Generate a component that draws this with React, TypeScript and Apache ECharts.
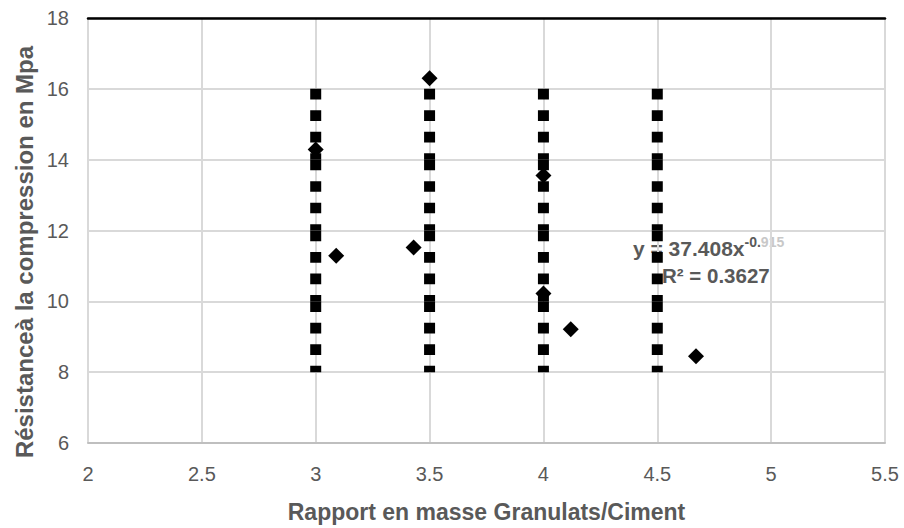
import React, { useEffect, useRef } from "react";
import * as echarts from "echarts";

// Axis ranges / ticks
const xMin = 2;
const xMax = 5.5;
const xStep = 0.5;
const yMin = 6;
const yMax = 18;
const yStep = 2;

// Measured points (diamonds)
const pointsX = [3.0, 3.09, 3.43, 3.5, 4.0, 4.0, 4.12, 4.67];
const pointsY = [14.29, 11.29, 11.52, 16.3, 13.55, 10.22, 9.21, 8.45];

// Vertical square-dot lines
const dottedColumnsX = [3, 3.5, 4, 4.5];
const dottedLevels = [16, 14, 12, 10, 8];

// Texts
const xTitle = "Rapport en masse Granulats/Ciment";
const yTitle = "Résistanceà la compression en Mpa";
const eqMain = "y = 37.408x";
const eqExpA = "-0.";
const eqExpB = "915";
const r2Text = "R² = 0.3627";

const GREY = "#595959";
const FONT = "'Liberation Sans', Arial, sans-serif";

export default function App() {
  const ref = useRef<HTMLDivElement>(null);

  useEffect(() => {
    if (!ref.current) return;
    const chart = echarts.init(ref.current, undefined, { renderer: "svg" });

    const dottedSeries: any[] = [];
    dottedColumnsX.forEach((cx) => {
      for (let i = 0; i < dottedLevels.length - 1; i++) {
        dottedSeries.push({
          type: "line",
          data: [
            [cx, dottedLevels[i]],
            [cx, dottedLevels[i + 1]],
          ],
          symbol: "none",
          silent: true,
          z: 3,
          lineStyle: {
            color: "#000000",
            width: 11,
            type: [10.7, 10.8],
            cap: "butt",
          },
        });
      }
    });

    chart.setOption({
      animation: false,
      backgroundColor: "#ffffff",
      textStyle: { fontFamily: FONT },
      grid: { left: 88, right: 19, top: 18, bottom: 80, containLabel: false },
      xAxis: [
        {
          type: "value",
          min: xMin,
          max: xMax,
          interval: xStep,
          position: "bottom",
          name: xTitle,
          nameLocation: "middle",
          nameGap: 57,
          nameTextStyle: {
            color: GREY,
            fontSize: 23,
            fontWeight: "bold",
            fontFamily: FONT,
          },
          axisLine: { show: true, lineStyle: { color: "#bfbfbf", width: 2 } },
          axisTick: { show: false },
          axisLabel: {
            color: GREY,
            fontSize: 20,
            margin: 21,
            fontFamily: FONT,
          },
          splitLine: { show: true, lineStyle: { color: "#d9d9d9", width: 2 } },
        },
        {
          type: "value",
          min: xMin,
          max: xMax,
          interval: xStep,
          position: "top",
          axisLine: { show: true, lineStyle: { color: "#000000", width: 2.5 } },
          axisTick: { show: false },
          axisLabel: { show: false },
          splitLine: { show: false },
        },
      ],
      yAxis: {
        type: "value",
        min: yMin,
        max: yMax,
        interval: yStep,
        axisLine: { show: false },
        axisTick: { show: false },
        axisLabel: {
          color: GREY,
          fontSize: 20,
          margin: 19,
          fontFamily: FONT,
        },
        splitLine: { show: true, lineStyle: { color: "#d9d9d9", width: 2 } },
      },
      graphic: [
        {
          type: "text",
          x: 24,
          y: 252,
          rotation: Math.PI / 2,
          z: 0,
          style: {
            text: yTitle,
            fill: GREY,
            fontSize: 24,
            fontWeight: "bold",
            fontFamily: FONT,
            textAlign: "center",
            textVerticalAlign: "middle",
          },
        },
        {
          type: "text",
          x: 633,
          y: 248,
          z: 0,
          style: {
            rich: {
              m: { fontSize: 21, fontWeight: "bold", fill: GREY, fontFamily: FONT },
              e: {
                fontSize: 14,
                fontWeight: "bold",
                fill: GREY,
                fontFamily: FONT,
                padding: [0, 0, 12, 0],
              },
              f: {
                fontSize: 14,
                fontWeight: "bold",
                fill: "#c8c8c8",
                fontFamily: FONT,
                padding: [0, 0, 12, 0],
              },
            },
            text: `{m|${eqMain}}{e|${eqExpA}}{f|${eqExpB}}`,
            textAlign: "left",
            textVerticalAlign: "middle",
          },
        },
        {
          type: "text",
          x: 662,
          y: 275,
          z: 0,
          style: {
            text: r2Text,
            fill: GREY,
            fontSize: 20.5,
            fontWeight: "bold",
            fontFamily: FONT,
            textAlign: "left",
            textVerticalAlign: "middle",
          },
        },
      ],
      series: [
        ...dottedSeries,
        {
          type: "scatter",
          data: pointsX.map((x, i) => [x, pointsY[i]]),
          symbol: "diamond",
          symbolSize: 16,
          z: 5,
          itemStyle: { color: "#000000", opacity: 1 },
        },
      ],
    });

    return () => chart.dispose();
  }, []);

  return (
    <div
      ref={ref}
      style={{ position: "absolute", left: 0, top: 0, width: 904, height: 528 }}
    />
  );
}
